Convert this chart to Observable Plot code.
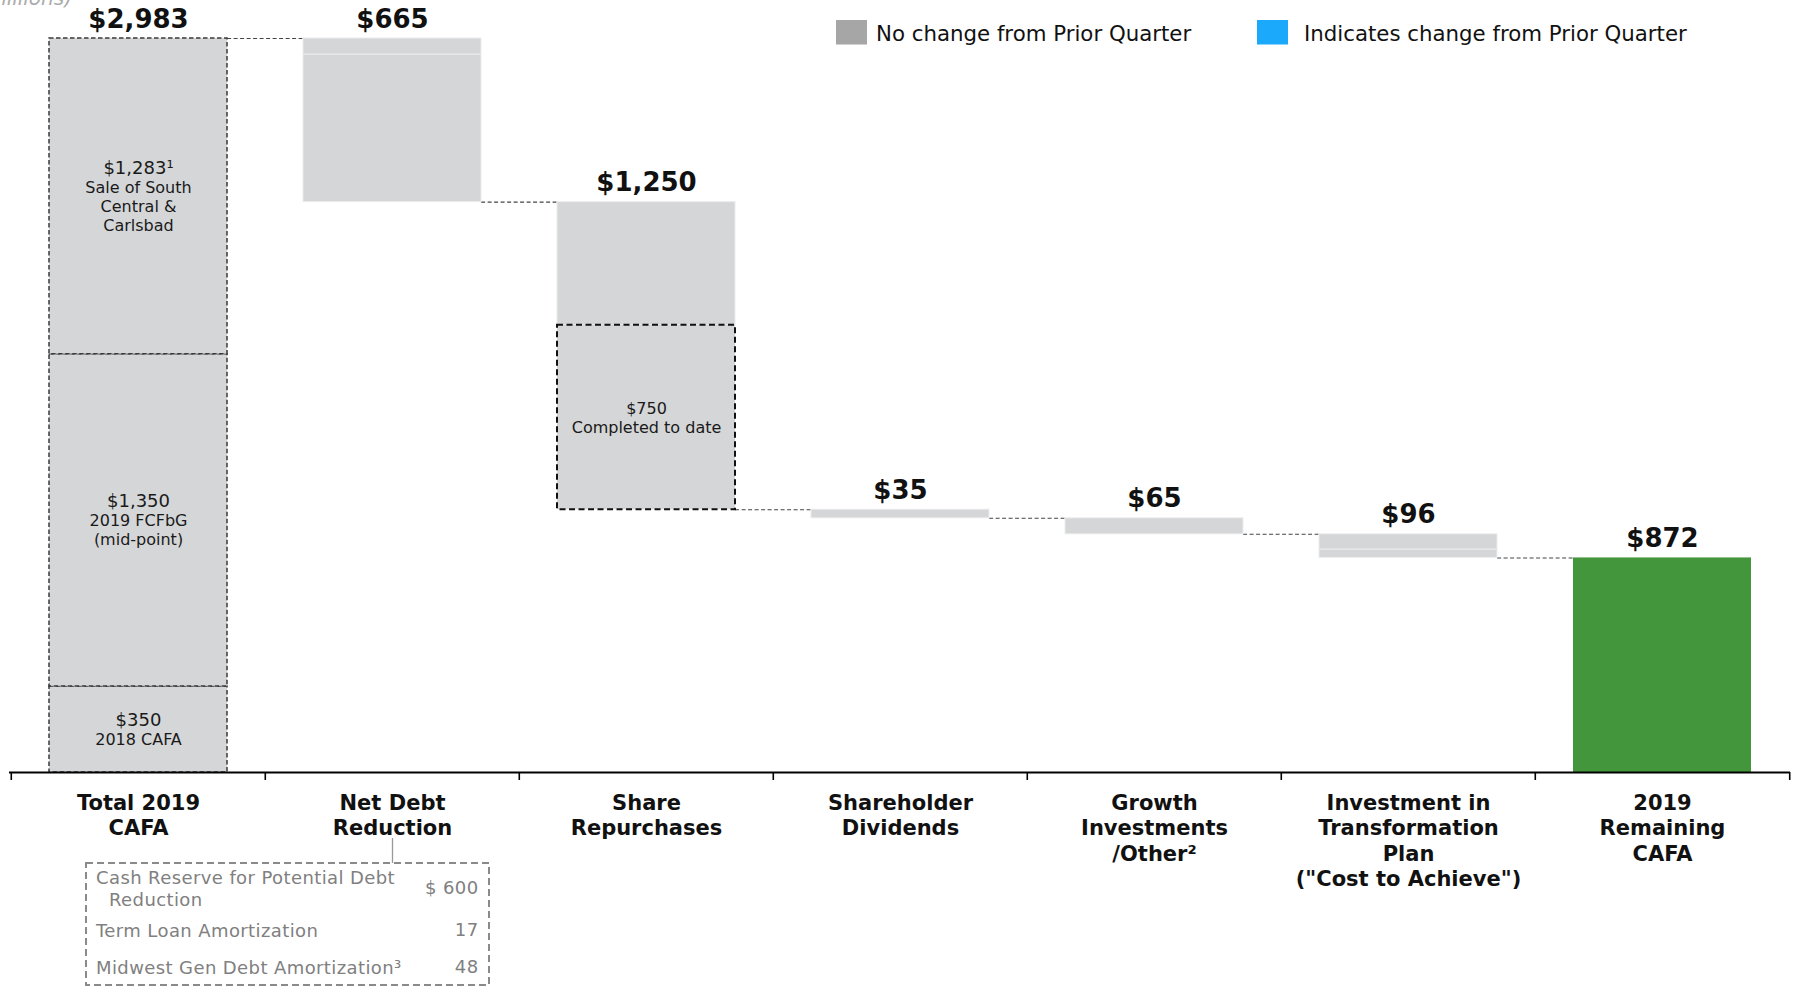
<!DOCTYPE html>
<html>
<head>
<meta charset="utf-8">
<script src="https://cdn.jsdelivr.net/npm/d3@7"></script>
<script src="https://cdn.jsdelivr.net/npm/@observablehq/plot@0.6"></script>
<style>
  html, body { margin: 0; padding: 0; background: #fff; overflow: hidden; }
  #wrap { position: relative; width: 1797px; height: 987px; }
</style>
</head>
<body>
<div id="wrap"></div>
<script>
// ---------- data ----------
const categories = [
  "Total 2019\nCAFA",
  "Net Debt\nReduction",
  "Share\nRepurchases",
  "Shareholder\nDividends",
  "Growth\nInvestments\n/Other²",
  "Investment in\nTransformation\nPlan\n(\"Cost to Achieve\")",
  "2019\nRemaining\nCAFA"
];
const amounts = [2983, 665, 1250, 35, 65, 96, 872];
const valueLabels = ["$2,983", "$665", "$1,250", "$35", "$65", "$96", "$872"];

// components of the total bar (bottom to top)
const totalParts = [350, 1350, 1283];
const totalHeads = ["$350", "$1,350", "$1,283¹"];
const totalBodies = ["2018 CAFA", "2019 FCFbG\n(mid-point)", "Sale of South\nCentral &\nCarlsbad"];

// share repurchases: completed part (bottom, dashed) then remainder
const repurchaseParts = [750, 500];
const repurchaseLabel = "$750\nCompleted to date";

// net debt reduction breakdown (callout)
const netDebtItems = ["Cash Reserve for Potential Debt\n Reduction", "Term Loan Amortization", "Midwest Gen Debt Amortization³"];
const netDebtValues = [600, 17, 48];
const netDebtValueLabels = ["$ 600", "17", "48"];

// transformation bar split (estimated from faint divider)
const transformParts = [34, 62];

const legendItems = ["No change from Prior Quarter", "Indicates change from Prior Quarter"];
const legendColors = ["#a6a6a6", "#1ba9fb"];

const unitNote = "($ in millions)";

// ---------- layout ----------
const W = 1797, H = 987;
const mL = 9, mR = 7, mT = 38, mB = 215;
const pI = 0.3, pO = 0.15;
const nCat = categories.length;
const step = (W - mL - mR) / (nCat - pI + 2 * pO);
const bw = step * (1 - pI);
const FONT = "DejaVu Sans";
const GRAY = "#d5d6d8";
const GREEN = "#43963b";

// ---------- derived waterfall ----------
let level = amounts[0];
const bars = categories.map((c, i) => {
  if (i === 0 || i === nCat - 1) return {cat: c, lo: 0, hi: amounts[i], label: valueLabels[i]};
  const hi = level, lo = level - amounts[i];
  level = lo;
  return {cat: c, lo, hi, label: valueLabels[i]};
});

const connectors = [];
for (let i = 0; i < nCat - 1; i++) {
  const v = i === 0 ? bars[0].hi : bars[i].lo;
  connectors.push({a: categories[i], b: categories[i + 1], v});
}

// total bar segments
let acc = 0;
const totalSegs = totalParts.map((v, i) => {
  const s = {cat: categories[0], lo: acc, hi: acc + v, head: totalHeads[i], body: totalBodies[i]};
  acc += v;
  return s;
});
const totalHeadTexts = totalSegs.map(s => {
  const nb = s.body.split("\n").length;
  return {cat: s.cat, mid: (s.lo + s.hi) / 2, text: s.head + "\n".repeat(nb) + " "};
});
const totalBodyTexts = totalSegs.map(s => ({cat: s.cat, mid: (s.lo + s.hi) / 2, text: " \n" + s.body}));

// solid gray segments
const solidSegs = [];
{
  const b = bars[1];
  const first = netDebtValues[0];
  solidSegs.push({cat: b.cat, lo: b.lo, hi: b.lo + first});
  solidSegs.push({cat: b.cat, lo: b.lo + first, hi: b.hi});
  const r = bars[2];
  solidSegs.push({cat: r.cat, lo: r.lo + repurchaseParts[0], hi: r.lo + repurchaseParts[0] + repurchaseParts[1]});
  solidSegs.push({cat: bars[3].cat, lo: bars[3].lo, hi: bars[3].hi});
  solidSegs.push({cat: bars[4].cat, lo: bars[4].lo, hi: bars[4].hi});
  const t = bars[5];
  solidSegs.push({cat: t.cat, lo: t.lo, hi: t.lo + transformParts[0]});
  solidSegs.push({cat: t.cat, lo: t.lo + transformParts[0], hi: t.lo + transformParts[0] + transformParts[1]});
}
const completedSeg = [{cat: bars[2].cat, lo: bars[2].lo, hi: bars[2].lo + repurchaseParts[0], text: repurchaseLabel}];

// ---------- chart ----------
const plot = Plot.plot({
  width: W,
  height: H,
  marginLeft: mL,
  marginRight: mR,
  marginTop: mT,
  marginBottom: mB,
  style: {fontFamily: FONT, background: "white", overflow: "visible"},
  x: {domain: categories, paddingInner: pI, paddingOuter: pO, axis: null},
  y: {domain: [0, amounts[0]], axis: null},
  marks: [
    Plot.ruleY(connectors, {y: "v", x1: "a", x2: "b", insetLeft: bw, insetRight: bw,
      stroke: "#444", strokeWidth: 1.1, strokeDasharray: "4,2.5"}),
    Plot.barY(totalSegs, {x: "cat", y1: "lo", y2: "hi", fill: GRAY,
      stroke: "#3a3a3a", strokeWidth: 1.5, strokeDasharray: "4.5,2.5"}),
    Plot.barY(solidSegs, {x: "cat", y1: "lo", y2: "hi", fill: GRAY, stroke: "#ececed", strokeWidth: 1}),
    Plot.barY(completedSeg, {x: "cat", y1: "lo", y2: "hi", fill: GRAY,
      stroke: "#111", strokeWidth: 2, strokeDasharray: "6,3.5"}),
    Plot.barY([bars[nCat - 1]], {x: "cat", y1: "lo", y2: "hi", fill: GREEN}),
    Plot.text(totalHeadTexts, {x: "cat", y: "mid", text: "text", fontSize: 18, lineHeight: 19 / 18,
      lineAnchor: "middle", fill: "#1a1a1a", fontFamily: FONT}),
    Plot.text(totalBodyTexts, {x: "cat", y: "mid", text: "text", fontSize: 16, lineHeight: 19 / 16,
      lineAnchor: "middle", fill: "#1a1a1a", fontFamily: FONT}),
    Plot.text(completedSeg, {x: "cat", y: d => (d.lo + d.hi) / 2, text: "text", fontSize: 16, lineHeight: 19 / 16,
      lineAnchor: "middle", fill: "#1a1a1a", fontFamily: FONT}),
    Plot.text(bars, {x: "cat", y: "hi", text: "label", dy: -11, lineAnchor: "bottom",
      fontSize: 26, fontWeight: "bold", fill: "#111", fontFamily: FONT}),
    Plot.ruleY([0], {stroke: "#000", strokeWidth: 2.2}),
    Plot.ruleX(categories, {x: d => d, y1: 0, y2: 0, dx: -step / 2, insetBottom: -8, stroke: "#000", strokeWidth: 1.6}),
    Plot.ruleX([categories[nCat - 1]], {x: d => d, y1: 0, y2: 0, dx: step / 2, insetBottom: -8, stroke: "#000", strokeWidth: 1.6}),
    Plot.text(categories, {x: d => d, y: 0, text: d => d, lineAnchor: "top", dy: 19,
      fontSize: 21, fontWeight: "bold", lineHeight: 25.5 / 21, fill: "#111", fontFamily: FONT}),
    Plot.ruleX([categories[1]], {x: d => d, y1: 0, y2: 0, insetTop: 66, insetBottom: -91, stroke: "#9a9a9a", strokeWidth: 1.3})
  ]
});

document.getElementById("wrap").appendChild(plot);

// ---------- annotations: legend, unit note, breakdown box ----------
const svg = d3.select(plot);
const ann = svg.append("g").attr("font-family", FONT).attr("text-anchor", "start");

// unit note (cut off at top of the page, as in the source slide)
ann.append("text").attr("x", 72).attr("y", 4.5).attr("text-anchor", "end")
  .attr("font-size", 20).attr("font-style", "italic").attr("fill", "#ababab").text(unitNote);

// legend
const legendX = [836, 1257];
const legendTextX = [876, 1304];
legendItems.forEach((t, i) => {
  ann.append("rect").attr("x", legendX[i]).attr("y", 20).attr("width", 31).attr("height", 24.5)
    .attr("fill", legendColors[i]);
  ann.append("text").attr("x", legendTextX[i]).attr("y", 40.5).attr("font-size", 21.3)
    .attr("text-anchor", "start").attr("fill", "#111").text(t);
});

// breakdown box under Net Debt Reduction
const box = {x: 86, y: 863, w: 403, h: 122};
ann.append("rect").attr("x", box.x).attr("y", box.y).attr("width", box.w).attr("height", box.h)
  .attr("fill", "none").attr("stroke", "#8a8a8a").attr("stroke-width", 2).attr("stroke-dasharray", "7,4");
const rowBase = [884.3, 937.3, 974.3];
const lineGap = 21.4;
netDebtItems.forEach((t, i) => {
  const lines = t.split("\n");
  lines.forEach((ln, j) => {
    const indent = ln.startsWith(" ") ? 13 : 0;
    ann.append("text").attr("x", box.x + 10 + indent).attr("y", rowBase[i] + j * lineGap)
      .attr("text-anchor", "start").attr("font-size", 18).attr("letter-spacing", 0.4)
      .attr("fill", "#808080").text(ln.trim());
  });
  ann.append("text").attr("x", box.x + box.w - 10.5).attr("y", rowBase[i] + (lines.length - 1) * lineGap / 2 - 1.5)
    .attr("text-anchor", "end").attr("font-size", 18).attr("letter-spacing", 0.4)
    .attr("fill", "#808080").text(netDebtValueLabels[i]);
});
</script>
</body>
</html>
